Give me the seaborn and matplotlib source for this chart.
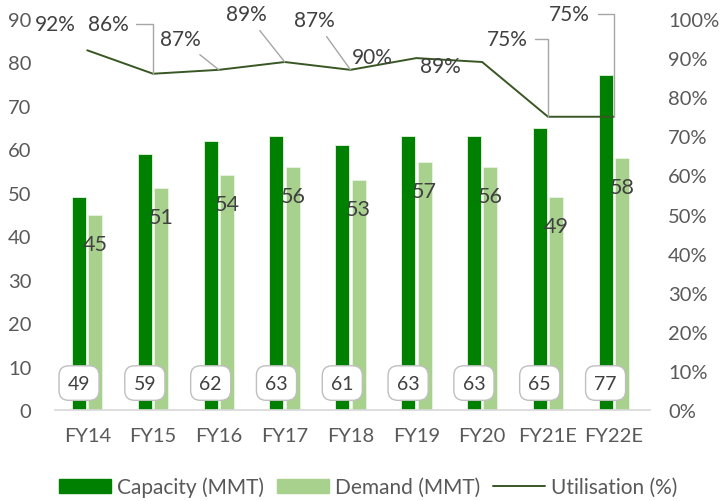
import numpy as np
import pandas as pd
import matplotlib
matplotlib.use("Agg")
import matplotlib.pyplot as plt
from matplotlib.patches import Patch
from matplotlib.lines import Line2D
from matplotlib.ticker import PercentFormatter
import seaborn as sns

years = ["FY14", "FY15", "FY16", "FY17", "FY18", "FY19", "FY20", "FY21E", "FY22E"]
capacity = [49, 59, 62, 63, 61, 63, 63, 65, 77]
demand = [45, 51, 54, 56, 53, 57, 56, 49, 58]
utilisation = [0.92, 0.86, 0.87, 0.89, 0.87, 0.90, 0.89, 0.75, 0.75]
util_labels = ["92%", "86%", "87%", "89%", "87%", "90%", "89%", "75%", "75%"]

# label offsets (pixels) and leader style for utilisation labels
util_offsets = [(-32, 26), (-45, 50), (-39, 31), (-38, 48), (-36, 50),
                (-44, 1), (-42, -4), (-41, 78), (-44, 103)]
util_leader = [None, "elbow", "straight", "straight", "straight",
               None, None, "elbow", "elbow"]

DARK = "#008000"
LIGHT = "#a9d18e"
LINE = "#385723"
TXT = "#595959"
LBL = "#404040"

sns.set_theme(style="white")
plt.rcParams["font.family"] = ["Lato", "DejaVu Sans"]

df = pd.DataFrame({
    "Year": years * 2,
    "Value": capacity + demand,
    "Series": ["Capacity (MMT)"] * len(years) + ["Demand (MMT)"] * len(years),
})
udf = pd.DataFrame({"pos": np.arange(len(years)), "util": utilisation})

fig = plt.figure(figsize=(7.22, 5.02), dpi=100)
ax = fig.add_axes([55 / 722, 1 - 411 / 502, 595 / 722, 391 / 502])

sns.barplot(data=df, x="Year", y="Value", hue="Series", palette=[DARK, LIGHT],
            width=0.5, gap=0.15, ax=ax, legend=False, saturation=1,
            edgecolor="#e8f3e0", linewidth=0.6)
ax.set_ylim(0, 90)
ax.set_yticks(range(0, 91, 10))
ax.set_xlim(-0.49, 8.55)
ax.set_xlabel("")
ax.set_ylabel("")
for s in ["top", "right", "left"]:
    ax.spines[s].set_visible(False)
ax.spines["bottom"].set_color("#d9d9d9")
ax.tick_params(axis="y", length=0, pad=17, labelsize=14.5, labelcolor=TXT)
ax.tick_params(axis="x", length=0, pad=12, labelsize=14.5, labelcolor=TXT)

# capacity labels in rounded boxes near the base
for bar, v in zip(ax.containers[0], capacity):
    ax.text(bar.get_x() + bar.get_width() / 2, 6.2, f"{v}", ha="center", va="center",
            fontsize=14, color=LBL, zorder=5,
            bbox=dict(boxstyle="round,pad=0.45,rounding_size=0.5", fc="white",
                      ec="#bfbfbf", lw=1))

# demand labels inside end
for bar, v in zip(ax.containers[1], demand):
    ax.annotate(f"{v}", (bar.get_x() + bar.get_width() / 2, v), xytext=(0, -29),
                textcoords="offset pixels", ha="center", va="center",
                fontsize=15.5, color=LBL, zorder=5)

ax2 = ax.twinx()
sns.lineplot(data=udf, x="pos", y="util", color=LINE, lw=1.4, ax=ax2)
ax2.set_ylim(0, 1)
ax2.set_yticks(np.arange(0, 1.01, 0.1))
ax2.yaxis.set_major_formatter(PercentFormatter(1.0, decimals=0))
ax2.set_ylabel("")
ax2.set_xlabel("")
for s in ["top", "right", "left", "bottom"]:
    ax2.spines[s].set_visible(False)
ax2.tick_params(axis="y", length=0, pad=13, labelsize=14.5, labelcolor=TXT)

for i, (u, lab, off, lead) in enumerate(zip(utilisation, util_labels, util_offsets, util_leader)):
    kw = dict(xy=(i, u), xytext=off, textcoords="offset pixels", ha="center",
              va="center", fontsize=15, color=LBL)
    if lead == "elbow":
        kw["arrowprops"] = dict(arrowstyle="-", color="#a6a6a6", lw=1,
                                connectionstyle="angle,angleA=0,angleB=90,rad=0",
                                shrinkA=3, shrinkB=0)
    elif lead == "straight":
        kw["arrowprops"] = dict(arrowstyle="-", color="#a6a6a6", lw=1,
                                shrinkA=3, shrinkB=0)
    ax2.annotate(lab, **kw)

handles = [Patch(color=DARK, label="Capacity (MMT)"),
           Patch(color=LIGHT, label="Demand (MMT)"),
           Line2D([], [], color=LINE, lw=1.4, label="Utilisation (%)")]
leg = fig.legend(handles=handles, loc="center", bbox_to_anchor=(0.51, 1 - 488 / 502),
                 ncol=3, frameon=False, fontsize=15, handlelength=2.5, handleheight=0.65,
                 columnspacing=0.6, handletextpad=0.3)
for t in leg.get_texts():
    t.set_color(TXT)

fig.savefig("out.png", dpi=100)
